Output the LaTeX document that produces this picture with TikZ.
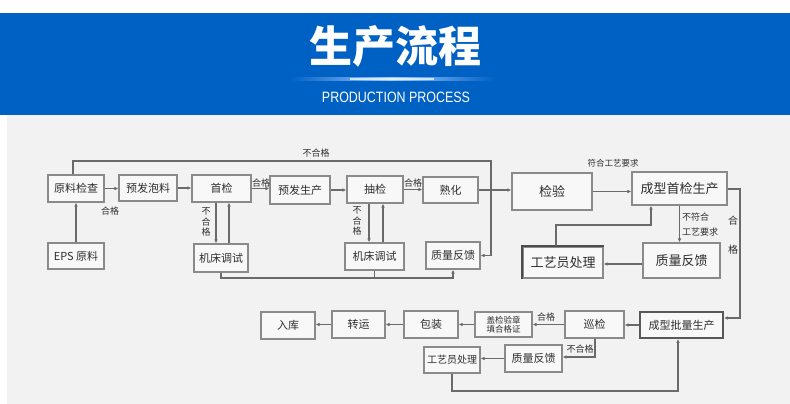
\documentclass[tikz,border=0pt]{standalone}
\usepackage{fontspec}
\newfontfamily\cjk{Noto Sans CJK SC}
\newfontfamily\latin{Liberation Sans}
\usetikzlibrary{arrows.meta}
\definecolor{bandblue}{HTML}{0061C5}
\definecolor{bggray}{HTML}{F2F2F2}
\definecolor{boxline}{HTML}{8A8A8A}
\definecolor{boxfill}{HTML}{F8F8F8}
\definecolor{conn}{HTML}{6A6A6A}
\definecolor{txt}{HTML}{2E2E2E}
\definecolor{glow}{HTML}{9CC8FF}
\tikzset{
  box/.style={draw=boxline, line width=1.2pt, fill=boxfill, inner sep=0pt, text=txt,
    font=\cjk\fontsize{11}{11}\selectfont},
  bigbox/.style={box, font=\cjk\fontsize{13}{13}\selectfont},
  thickbox/.style={box, draw=black!65, line width=1.8pt},
  lbl/.style={inner sep=0pt, text=txt, font=\cjk\fontsize{9}{9}\selectfont},
  arr/.style={draw=conn, line width=1.1pt, -{Latex[length=4pt,width=3.6pt]}},
  ln/.style={draw=conn, line width=1.1pt},
}
\begin{document}
\begin{tikzpicture}[x=1pt,y=-1pt]
\useasboundingbox (0,0) rectangle (790,404);
% header
\fill[white] (0,0) rectangle (790,404);
\fill[bandblue] (0,13) rectangle (790,115);
\fill[bggray] (7,115) rectangle (790,404);
\node[text=white, inner sep=0pt, font=\cjk\bfseries\fontsize{43}{43}\selectfont] (title) at (395,46) {生产流程};
\shade[left color=bandblue, right color=glow] (290,77.8) rectangle (392,80.2);
\shade[left color=glow, right color=bandblue] (392,77.8) rectangle (494,80.2);
\fill[white, opacity=0.7] (350,78.4) rectangle (434,79.6);
\node[text=white, inner sep=0pt, font=\latin\fontsize{15}{15}\selectfont] (sub) at (396,97) {\scalebox{0.83}[1]{PRODUCTION PROCESS}};

% row 1
\node[box, minimum width=56pt, minimum height=27pt] (yl) at (76,188.5) {原料检查};
\node[box, minimum width=58pt, minimum height=26pt] (yf) at (148,188) {预发泡料};
\node[box, minimum width=59pt, minimum height=27pt] (sj) at (221.5,188.5) {首检};
\node[box, minimum width=60pt, minimum height=28pt] (yfsc) at (300,190) {预发生产};
\node[box, minimum width=56pt, minimum height=27pt] (cj) at (375,189.5) {抽检};
\node[box, minimum width=55pt, minimum height=26pt] (sh) at (450.5,190) {熟化};
\node[bigbox, minimum width=80pt, minimum height=37pt] (jy) at (552,191.5) {检验};
\node[bigbox, minimum width=95pt, minimum height=33pt] (cxsj) at (679.5,188.5) {成型首检生产};
% row 2
\node[box, minimum width=56pt, minimum height=26pt] (eps) at (76,256) {EPS 原料};
\node[box, minimum width=54pt, minimum height=28pt] (jc1) at (221,258) {机床调试};
\node[box, minimum width=59pt, minimum height=27pt] (jc2) at (374.5,256.5) {机床调试};
\node[box, minimum width=54pt, minimum height=27pt] (zl1) at (453,255.5) {质量反馈};
\node[bigbox, minimum width=80pt, minimum height=31pt] (gy1) at (563,262.5) {工艺员处理};
\draw[black!70, line width=2pt] (gy1.south west) |- (gy1.north east);
\node[bigbox, minimum width=77pt, minimum height=35pt] (zl2) at (681.5,260.5) {质量反馈};
% row 3
\node[box, minimum width=54pt, minimum height=27pt] (rk) at (288,325.5) {入库};
\node[box, minimum width=53pt, minimum height=27pt] (zy) at (358.5,324.5) {转运};
\node[box, minimum width=54pt, minimum height=27pt] (bz) at (431,324.5) {包装};
\node[box, minimum width=57pt, minimum height=25pt, align=center, font=\cjk\fontsize{8.5}{9.5}\selectfont] (gz) at (503.5,324.5) {盖检验章\\填合格证};
\node[box, minimum width=59pt, minimum height=27pt] (xj) at (594.5,324.5) {巡检};
\node[thickbox, minimum width=83pt, minimum height=26pt] (cxpl) at (681.5,325) {成型批量生产};
% row 4
\node[box, minimum width=56pt, minimum height=26pt, font=\cjk\fontsize{10}{10}\selectfont] (gy2) at (452,360) {工艺员处理};
\node[box, minimum width=57pt, minimum height=27pt] (zl3) at (533.5,358.5) {质量反馈};

% connectors row 1
\draw[arr] (eps) -- (yl);
\draw[arr] (yl.east) -- (yl.east -| yf.west);
\draw[arr] (yf.east) -- (yf.east -| sj.west);
\draw[arr] (sj.east) -- (sj.east -| yfsc.west);
\draw[arr] (yfsc.east) -- (yfsc.east -| cj.west);
\draw[arr] (cj.east) -- (cj.east -| sh.west);
\draw[arr] (sh.east) -- (sh.east -| jy.west);
\draw[arr] (jy.east) -- (jy.east -| cxsj.west);
\node[lbl] (l1) at (110,211) {合格};
\node[lbl] (l2) at (261,183) {合格};
\node[lbl] (l3) at (413,183) {合格};
\node[lbl, font=\cjk\fontsize{8.5}{8.5}\selectfont] (l4) at (613,163) {符合工艺要求};

% inspection loops
\draw[arr] ([xshift=-5.5pt]sj.south) -- ([xshift=-5.5pt]sj.south |- jc1.north);
\draw[arr] ([xshift=7.5pt]sj.south |- jc1.north) -- ([xshift=7.5pt]sj.south);
\node[lbl, align=center, font=\cjk\fontsize{9}{10.5}\selectfont] (l5) at (206,222) {不\\合\\格};
\draw[arr] ([xshift=-6pt]cj.south) -- ([xshift=-6pt]cj.south |- jc2.north);
\draw[arr] ([xshift=8pt]cj.south |- jc2.north) -- ([xshift=8pt]cj.south);
\node[lbl, align=center, font=\cjk\fontsize{9}{10.5}\selectfont] (l6) at (357,221) {不\\合\\格};

% top reject loop
\coordinate (tl) at (491,161);
\draw[arr] ([xshift=-3pt]yl.north) |- (tl) |- (zl1.east);
\node[lbl] (l7) at (316,153) {不合格};

% bottom machine loop
\coordinate (bl) at (300,278);
\draw[arr] (jc1.south) |- (bl) -| (zl1.south);
\draw[ln] (jc2.south) -- (jc2.south |- bl);

% forming first-article
\draw[arr] (cxsj.south) -- (cxsj.south |- zl2.north);
\node[lbl, align=left, anchor=west, font=\cjk\fontsize{9}{15}\selectfont] (l8) at (682,224.5) {不符合\\工艺要求};
\draw[arr] (zl2.west |- 0,264) -- (gy1.east |- 0,264);
\coordinate (c15) at (651,225);
\draw[arr] ([xshift=-7pt]gy1.north) |- (c15) -- (c15 |- cxsj.south);
\coordinate (c16) at (740,189);
\draw[arr] (cxsj.east |- c16) -- (c16) |- ([yshift=7pt]cxpl.east);
\node[lbl, font=\cjk\fontsize{10}{10}\selectfont] (l9) at (733,221) {合};
\node[lbl, font=\cjk\fontsize{10}{10}\selectfont] (l10) at (733,250) {格};

% row 3 flow
\draw[arr] (cxpl.west) -- (cxpl.west -| xj.east);
\draw[arr] (xj.west) -- (xj.west -| gz.east);
\draw[arr] (gz.west) -- (gz.west -| bz.east);
\draw[arr] (bz.west) -- (bz.west -| zy.east);
\draw[arr] (zy.west) -- (zy.west -| rk.east);
\node[lbl] (l11) at (546,317) {合格};

% patrol reject loop
\coordinate (c20) at (595,357);
\draw[arr] (xj.south -| c20) |- (zl3.east |- c20);
\node[lbl] (l12) at (580,349.5) {不合格};
\draw[arr] (zl3.west) -- (zl3.west -| gy2.east);
\coordinate (c22) at (560,391);
\draw[arr] (gy2.south) |- (c22) -| ([xshift=-3.5pt]cxpl.south);
\end{tikzpicture}
\end{document}
